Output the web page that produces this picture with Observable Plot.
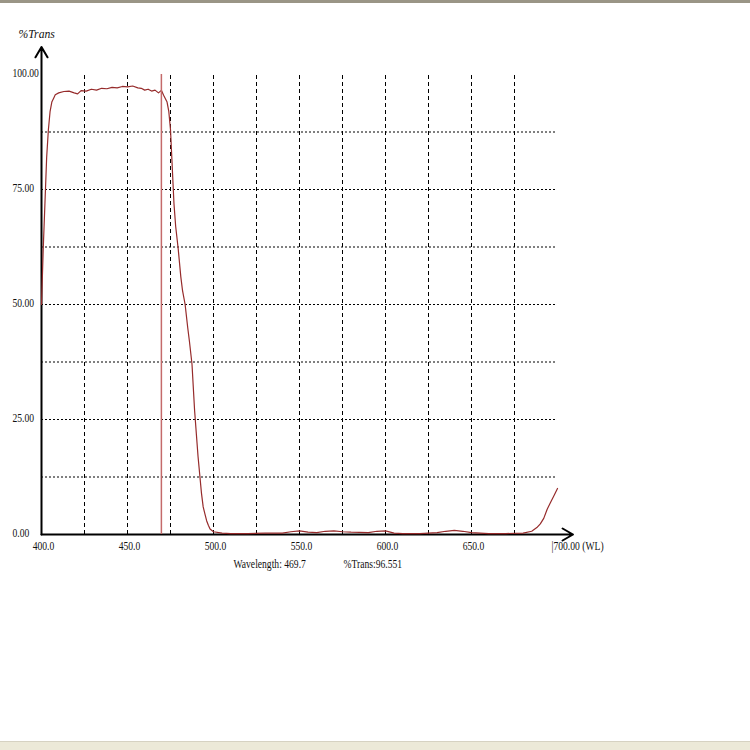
<!DOCTYPE html>
<html><head><meta charset="utf-8">
<script src="https://cdn.jsdelivr.net/npm/d3@7"></script>
<script src="https://cdn.jsdelivr.net/npm/@observablehq/plot@0.6"></script>
<style>
body{margin:0;background:#fff;}
#wrap{position:relative;width:750px;height:750px;overflow:hidden;background:#fff;}
#topbar{position:absolute;left:0;top:0;width:750px;height:3px;background:#9a9586;}
#status{position:absolute;left:0;top:741px;width:750px;height:9px;background:#ece9d8;border-top:1px solid #d6d2c2;}
#chart{position:absolute;left:0;top:0;}
</style></head><body>
<div id="wrap"><div id="chart"></div><div id="topbar"></div><div id="status"></div></div>
<script>
// Spectrum (wavelength nm, % transmission)
const wavelength = [400,401,402,403,404,405,406,407,408,410,413,416,419,421,423,426,429,432,435,438,441,444,447,450,453,456,458,460,462,464,466,468,469.7,471,473,474,475,476,477,478,479.5,481,482,483.5,485,486,487.5,489,490,491,492,493,494,495,496,497,498,500,505,510,520,530,540,545,550,555,560,565,570,575,580,590,595,600,605,610,620,630,635,640,645,650,660,670,680,685,688,690,692,694,696,698,700];
const trans = [50,62,72,82,88,92,94,94.8,95.6,96.0,96.3,96.4,96.0,95.8,96.5,96.4,96.8,96.6,97.0,96.9,97.2,97.1,97.4,97.3,97.5,97.1,97.0,96.6,96.8,96.4,96.6,96.0,96.55,95.5,94,92,88,80,72,67,62,56,53,50,45,42,37,27,22,17,13,9,6,4.5,3,2,1.2,0.6,0.3,0.2,0.2,0.3,0.3,0.6,0.8,0.5,0.4,0.7,0.8,0.6,0.5,0.4,0.7,0.8,0.3,0.2,0.2,0.4,0.7,0.9,0.7,0.4,0.2,0.2,0.3,0.7,1.5,2.3,3.5,5.5,7,8.5,10];

const xTicks = [400,450,500,550,600,650];
const xTickLabels = ["400.0","450.0","500.0","550.0","600.0","650.0"];
const xEnd = 700;
const xEndLabel = "|700.00 (WL)";
const yTicks = [0,25,50,75,100];
const yTickLabels = ["0.00","25.00","50.00","75.00","100.00"];
const xGrid = [425,450,475,500,525,550,575,600,625,650,675];
const yGrid = [12.5,25,37.5,50,62.5,75,87.5];
const yTitle = "%Trans";
const cursorWavelength = 469.7;
const cursorTrans = 96.551;

const data = wavelength.map((w, i) => ({w, t: trans[i]}));
const xTickData = xTicks.map((v, i) => ({v, label: xTickLabels[i]}));
const yTickData = yTicks.map((v, i) => ({v, label: yTickLabels[i]}));

const plot = Plot.plot({
  width: 750, height: 750,
  marginLeft: 41, marginRight: 193, marginTop: 74, marginBottom: 216,
  x: {domain: [400, 700], axis: null},
  y: {domain: [0, 100], axis: null},
  style: {fontFamily: "'Liberation Serif', 'Times New Roman', serif", fontSize: "13px", background: "transparent", color: "#000"},
  marks: [
    Plot.ruleX(xGrid, {y1: 0, y2: 100, stroke: "#000", strokeWidth: 1, strokeDasharray: "4,3"}),
    Plot.ruleY(yGrid, {x1: 400, x2: 700, stroke: "#000", strokeWidth: 1, strokeDasharray: "2,2"}),
    Plot.arrow([{x1: 400, y1: 0, x2: 400, y2: 106}], {x1: "x1", y1: "y1", x2: "x2", y2: "y2", stroke: "#000", strokeWidth: 2, headLength: 9, bend: 0}),
    Plot.arrow([{x1: 400, y1: 0, x2: 709, y2: 0}], {x1: "x1", y1: "y1", x2: "x2", y2: "y2", stroke: "#000", strokeWidth: 2, headLength: 9, bend: 0}),
    Plot.line(data, {x: "w", y: "t", stroke: "#962b2b", strokeWidth: 1.2}),
    Plot.ruleX([cursorWavelength], {y1: 0, y2: 100, stroke: "#c46a6a", strokeWidth: 1.5}),
    Plot.text(yTickData, {x: 400, y: "v", text: "label", textAnchor: "start", dx: -29, dy: 2, fill: "#111"}),
    Plot.text(xTickData, {x: "v", y: 0, text: "label", dx: 2, dy: 15, fill: "#111"}),
    Plot.text([xEndLabel], {x: xEnd, y: 0, text: d => d, textAnchor: "start", dx: -6, dy: 15, fill: "#111"}),
    Plot.text([yTitle], {frameAnchor: "top-left", text: d => d, textAnchor: "start", dx: -23, dy: -37, fontStyle: "italic", fill: "#111"}),
    Plot.text([`Wavelength: ${cursorWavelength}`], {frameAnchor: "bottom", text: d => d, textAnchor: "start", dx: -66, dy: 33, fill: "#111"}),
    Plot.text([`%Trans:${cursorTrans}`], {frameAnchor: "bottom", text: d => d, textAnchor: "start", dx: 44, dy: 33, fill: "#111"})
  ]
});
document.getElementById("chart").appendChild(plot);

// condensed look of the original font
plot.querySelectorAll("text").forEach(el => {
  const x = +el.getAttribute("x") || 0, y = +el.getAttribute("y") || 0;
  el.removeAttribute("x"); el.removeAttribute("y");
  const t = el.getAttribute("transform") || "";
  const s = el.textContent === yTitle ? 0.9 : 0.74;
  el.setAttribute("transform", `${t} translate(${x},${y}) scale(${s},1)`);
});
</script>
</body></html>
